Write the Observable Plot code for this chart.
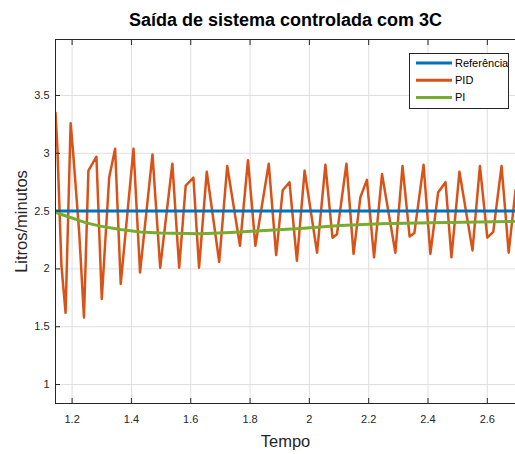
<!DOCTYPE html>
<html><head><meta charset="utf-8">
<script src="https://cdn.jsdelivr.net/npm/d3@7"></script>
<script src="https://cdn.jsdelivr.net/npm/@observablehq/plot@0.6"></script>
<style>
html,body{margin:0;padding:0;background:#fff;}
#wrap{position:relative;width:515px;height:454px;font-family:"Liberation Sans",Arial,Helvetica,sans-serif;}
#legend{position:absolute;left:409px;top:53px;width:100px;height:56px;border:1px solid #262626;background:#fff;box-sizing:border-box;}
</style></head><body><div id="wrap"></div>
<script>
// ---- data ----
const titleText = "Saída de sistema controlada com 3C";
const xLabel = "Tempo";
const yLabel = "Litros/minutos";
const xTicks = [1.2, 1.4, 1.6, 1.8, 2, 2.2, 2.4, 2.6];
const yTicks = [1, 1.5, 2, 2.5, 3, 3.5];
const xDomain = [1.144, 2.695];
const yDomain = [0.836, 3.984];

const seriesNames = ["Referência", "PID", "PI"];
const seriesColors = ["#0072BD", "#D95319", "#77AC30"];

const refT = [1.144, 2.695];
const refV = [2.5, 2.5];

const pidT = [1.144, 1.150, 1.164, 1.178, 1.195, 1.203, 1.224, 1.240, 1.255, 1.282,
  1.300, 1.325, 1.345, 1.364, 1.407, 1.429, 1.471, 1.497, 1.538, 1.561,
  1.583, 1.609, 1.628, 1.654, 1.696, 1.723, 1.766, 1.793, 1.818, 1.863,
  1.888, 1.910, 1.933, 1.958, 1.984, 2.026, 2.054, 2.078, 2.093, 2.125,
  2.149, 2.172, 2.194, 2.218, 2.245, 2.290, 2.314, 2.338, 2.354, 2.385,
  2.408, 2.434, 2.459, 2.479, 2.506, 2.550, 2.575, 2.600, 2.620, 2.648,
  2.672, 2.695];
const pidV = [3.35, 3.07, 2.03, 1.62, 3.26, 3.02, 2.31, 1.58, 2.85, 2.97,
  1.74, 2.79, 3.04, 1.87, 3.04, 1.97, 2.99, 2.01, 2.91, 2.01,
  2.72, 2.79, 2.01, 2.84, 2.06, 2.89, 2.20, 2.94, 2.20, 2.91,
  2.12, 2.68, 2.75, 2.07, 2.85, 2.14, 2.90, 2.27, 2.30, 2.91,
  2.13, 2.62, 2.77, 2.10, 2.82, 2.14, 2.89, 2.28, 2.31, 2.90,
  2.13, 2.66, 2.75, 2.10, 2.84, 2.16, 2.89, 2.27, 2.32, 2.89,
  2.14, 2.68];

const piT = [1.144, 1.177, 1.211, 1.245, 1.295, 1.363, 1.430, 1.498, 1.632, 1.734,
  1.835, 1.970, 2.104, 2.239, 2.408, 2.695];
const piV = [2.49, 2.46, 2.43, 2.40, 2.37, 2.34, 2.32, 2.31, 2.305, 2.315,
  2.33, 2.35, 2.375, 2.39, 2.40, 2.41];

// ---- build tables ----
const toRows = (T, V) => T.map((t, i) => ({t, v: V[i]}));
const ref = toRows(refT, refV), pid = toRows(pidT, pidV), pi = toRows(piT, piV);

const ink = "#262626";
const font = '"Liberation Sans", Arial, Helvetica, sans-serif';

const chart = Plot.plot({
  width: 515, height: 454,
  marginLeft: 55, marginRight: 0, marginTop: 39, marginBottom: 51,
  style: {background: "#fff", fontFamily: font, color: ink, overflow: "visible"},
  x: {domain: xDomain},
  y: {domain: yDomain},
  marks: [
    Plot.gridX(xTicks, {stroke: "#dfdfdf", strokeOpacity: 1, strokeWidth: 1}),
    Plot.gridY(yTicks, {stroke: "#dfdfdf", strokeOpacity: 1, strokeWidth: 1}),
    Plot.line(pid, {x: "t", y: "v", stroke: seriesColors[1], strokeWidth: 2.5, strokeLinejoin: "round", clip: true}),
    Plot.line(ref, {x: "t", y: "v", stroke: seriesColors[0], strokeWidth: 3, clip: true}),
    Plot.line(pi, {x: "t", y: "v", stroke: seriesColors[2], strokeWidth: 3, strokeLinejoin: "round", clip: true}),
    Plot.frame({anchor: "left", stroke: ink}),
    Plot.frame({anchor: "bottom", stroke: ink}),
    Plot.frame({anchor: "top", stroke: ink}),
    Plot.axisX({ticks: xTicks, tickSize: 0, tickPadding: 12, tickFormat: d => String(d), label: null, fontSize: 11, fill: ink}),
    Plot.axisX({ticks: xTicks, tickSize: -5, tickFormat: () => "", label: null, stroke: ink}),
    Plot.axisX({anchor: "top", ticks: xTicks, tickSize: -5, tickFormat: () => "", label: null, stroke: ink}),
    Plot.axisY({ticks: yTicks, tickSize: 0, tickPadding: 6, tickFormat: d => String(d), label: null, fontSize: 11, fill: ink}),
    Plot.axisY({ticks: yTicks, tickSize: -5, tickFormat: () => "", label: null, stroke: ink}),
    Plot.text([titleText], {frameAnchor: "top", dy: -19, text: d => d, fontSize: 18, fontWeight: "bold", fill: "#000", lineAnchor: "middle", textAnchor: "middle"}),
    Plot.text([xLabel], {frameAnchor: "bottom", dy: 38, text: d => d, fontSize: 16.5, fill: ink, lineAnchor: "middle", textAnchor: "middle"}),
    Plot.text([yLabel], {frameAnchor: "left", dx: -34, rotate: -90, text: d => d, fontSize: 16.5, fill: ink, lineAnchor: "middle", textAnchor: "middle"})
  ]
});
const wrap = document.getElementById("wrap");
wrap.appendChild(chart);

// legend
const leg = document.createElement("div");
leg.id = "legend";
const ns = "http://www.w3.org/2000/svg";
const ls = document.createElementNS(ns, "svg");
ls.setAttribute("width", "98"); ls.setAttribute("height", "54");
seriesNames.forEach((name, i) => {
  const cy = 9 + i * 17.3;
  const ln = document.createElementNS(ns, "line");
  ln.setAttribute("x1", 6); ln.setAttribute("x2", 42);
  ln.setAttribute("y1", cy); ln.setAttribute("y2", cy);
  ln.setAttribute("stroke", seriesColors[i]); ln.setAttribute("stroke-width", 3);
  ls.appendChild(ln);
  const tx = document.createElementNS(ns, "text");
  tx.setAttribute("x", 45); tx.setAttribute("y", cy);
  tx.setAttribute("dy", "0.35em");
  tx.setAttribute("font-size", "11");
  tx.setAttribute("font-family", font);
  tx.setAttribute("fill", "#000");
  tx.textContent = name;
  ls.appendChild(tx);
});
leg.appendChild(ls);
wrap.appendChild(leg);
</script>
</body></html>
